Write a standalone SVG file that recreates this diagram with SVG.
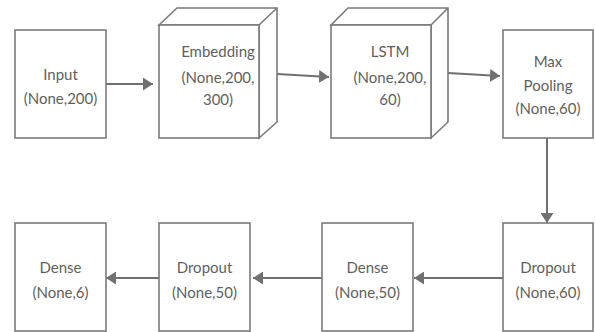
<svg xmlns="http://www.w3.org/2000/svg" width="595" height="332" viewBox="0 0 595 332">
<defs>
<style>
.box{fill:#fff;stroke:#7a7a7a;stroke-width:1.6}
.t{font-family:Lato,"Open Sans",sans-serif;font-size:15px;fill:#5f5f5f;text-anchor:middle}
.c{stroke:#707070;stroke-width:2;fill:none}
</style>
<marker id="ah" viewBox="0 0 10 13" refX="10" refY="6.5" markerWidth="10" markerHeight="13" markerUnits="userSpaceOnUse" orient="auto">
<path d="M0,0 L10,6.5 L0,13 Z" fill="#707070"/>
</marker>
</defs>
<rect width="595" height="332" fill="#fff"/>
<g id="connectors">
<line class="c" x1="106" y1="84" x2="153" y2="84" marker-end="url(#ah)"/>
<line class="c" x1="277" y1="74" x2="329" y2="77" marker-end="url(#ah)"/>
<line class="c" x1="448" y1="73" x2="500" y2="76" marker-end="url(#ah)"/>
<line class="c" x1="547" y1="138" x2="547" y2="223" marker-end="url(#ah)"/>
<line class="c" x1="503" y1="278" x2="414" y2="278" marker-end="url(#ah)"/>
<line class="c" x1="322" y1="278" x2="253" y2="278" marker-end="url(#ah)"/>
<line class="c" x1="159" y1="278" x2="106" y2="278" marker-end="url(#ah)"/>
</g>
<g id="input">
<rect class="box" x="15" y="30" width="91" height="108"/>
<text class="t" x="60.5" y="80">Input</text>
<text class="t" x="60.5" y="104">(None,200)</text>
</g>
<g id="embedding">
<path class="box" d="M159,25 L177,8 L277,8 L277,122 L259,138 L259,25 Z"/>
<line class="box" x1="259" y1="25" x2="277" y2="8"/>
<rect class="box" x="159" y="25" width="100" height="113"/>
<text class="t" x="218" y="57">Embedding</text>
<text class="t" x="218" y="83">(None,200,</text>
<text class="t" x="218" y="105">300)</text>
</g>
<g id="lstm">
<path class="box" d="M331,25 L348,8 L448,8 L448,122 L431,138 L431,25 Z"/>
<line class="box" x1="431" y1="25" x2="448" y2="8"/>
<rect class="box" x="331" y="25" width="100" height="113"/>
<text class="t" x="390" y="57">LSTM</text>
<text class="t" x="390" y="83">(None,200,</text>
<text class="t" x="390" y="105">60)</text>
</g>
<g id="maxpooling">
<rect class="box" x="503" y="30" width="90" height="108"/>
<text class="t" x="548" y="67">Max</text>
<text class="t" x="548" y="91">Pooling</text>
<text class="t" x="548" y="114">(None,60)</text>
</g>
<g id="dropout60">
<rect class="box" x="503" y="223" width="90" height="108"/>
<text class="t" x="548" y="273">Dropout</text>
<text class="t" x="548" y="298">(None,60)</text>
</g>
<g id="dense50">
<rect class="box" x="322" y="223" width="91" height="108"/>
<text class="t" x="367.5" y="273">Dense</text>
<text class="t" x="367.5" y="298">(None,50)</text>
</g>
<g id="dropout50">
<rect class="box" x="159" y="223" width="91" height="108"/>
<text class="t" x="204.5" y="273">Dropout</text>
<text class="t" x="204.5" y="298">(None,50)</text>
</g>
<g id="dense6">
<rect class="box" x="15" y="223" width="91" height="108"/>
<text class="t" x="60.5" y="273">Dense</text>
<text class="t" x="60.5" y="298">(None,6)</text>
</g>
</svg>
